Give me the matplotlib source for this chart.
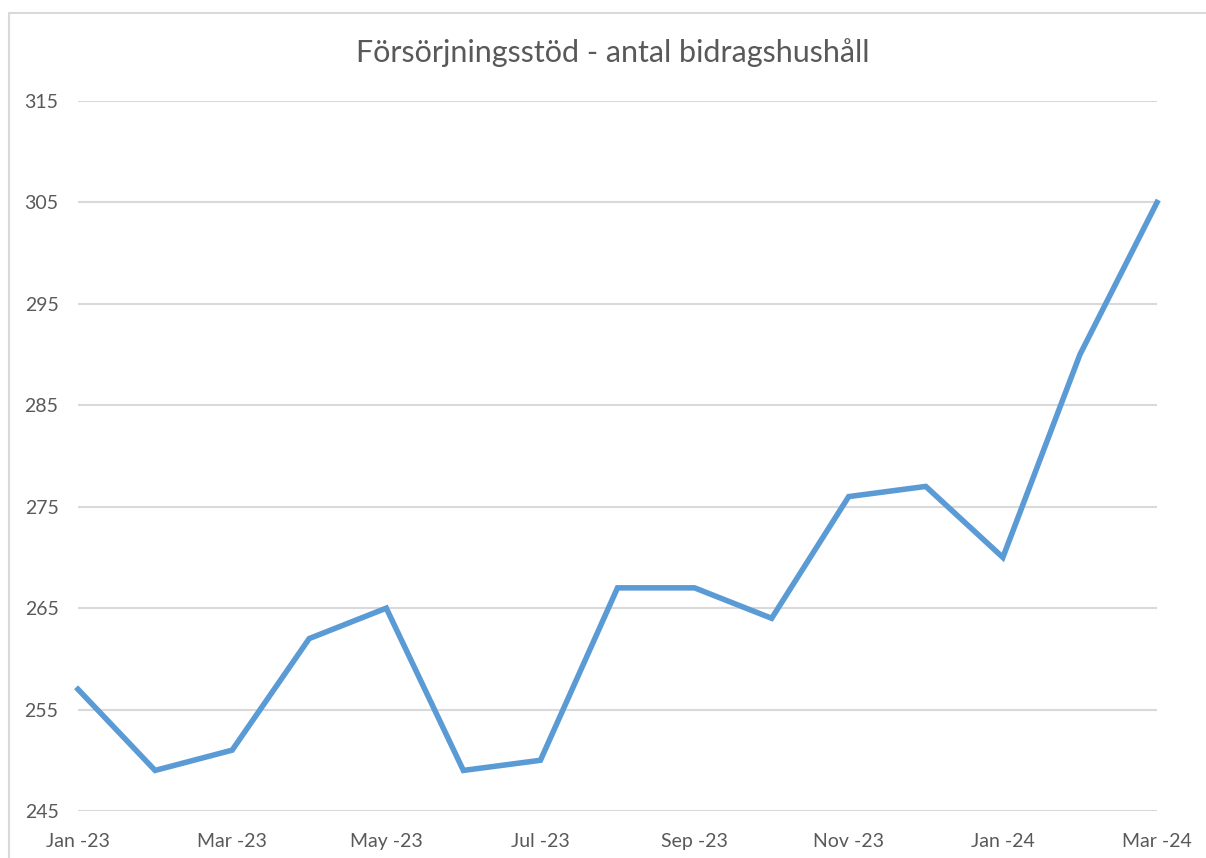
import matplotlib
matplotlib.use("Agg")
from matplotlib import pyplot as plt
from matplotlib.patches import Rectangle

months = ["Jan -23", "Feb -23", "Mar -23", "Apr -23", "May -23", "Jun -23", "Jul -23",
          "Aug -23", "Sep -23", "Oct -23", "Nov -23", "Dec -23", "Jan -24", "Feb -24", "Mar -24"]
households = [257, 249, 251, 262, 265, 249, 250, 267, 267, 264, 276, 277, 270, 290, 305]
y_ticks = [245, 255, 265, 275, 285, 295, 305, 315]

W, H = 1206, 858
fig = plt.figure(figsize=(W / 100, H / 100), dpi=100)
plt.rcParams['font.family'] = ['Lato', 'DejaVu Sans']

# chart frame
fig.patches.append(Rectangle((9 / W, -0.05), 1.1, 1 - 13 / H + 0.05, transform=fig.transFigure,
                             fill=False, edgecolor="#D9D9D9", linewidth=1.5))

ax = fig.add_axes([78 / W, 1 - 811 / H, (1157 - 78) / W, (811 - 101) / H])
x = list(range(len(months)))
ax.plot(x, households, color="#5B9BD5", linewidth=4, solid_joinstyle="miter", zorder=3, clip_on=False)

ax.set_xlim(0, len(months) - 1)
ax.set_ylim(245, 315)
ax.set_yticks(y_ticks)
ax.set_xticks(x[::2])
ax.set_xticklabels(months[::2])
ax.grid(axis="y", color="#D9D9D9", linewidth=1.5)
ax.set_axisbelow(True)
for s in ax.spines.values():
    s.set_visible(False)
ax.tick_params(length=0, labelsize=14, colors="#595959")
ax.tick_params(axis="y", pad=14)
ax.tick_params(axis="x", pad=16)

fig.text(613 / W, 1 - 53 / H, "Försörjningsstöd - antal bidragshushåll", ha="center", va="center",
         fontsize=22, color="#595959")

fig.savefig("out.png", dpi=100, facecolor="white")
